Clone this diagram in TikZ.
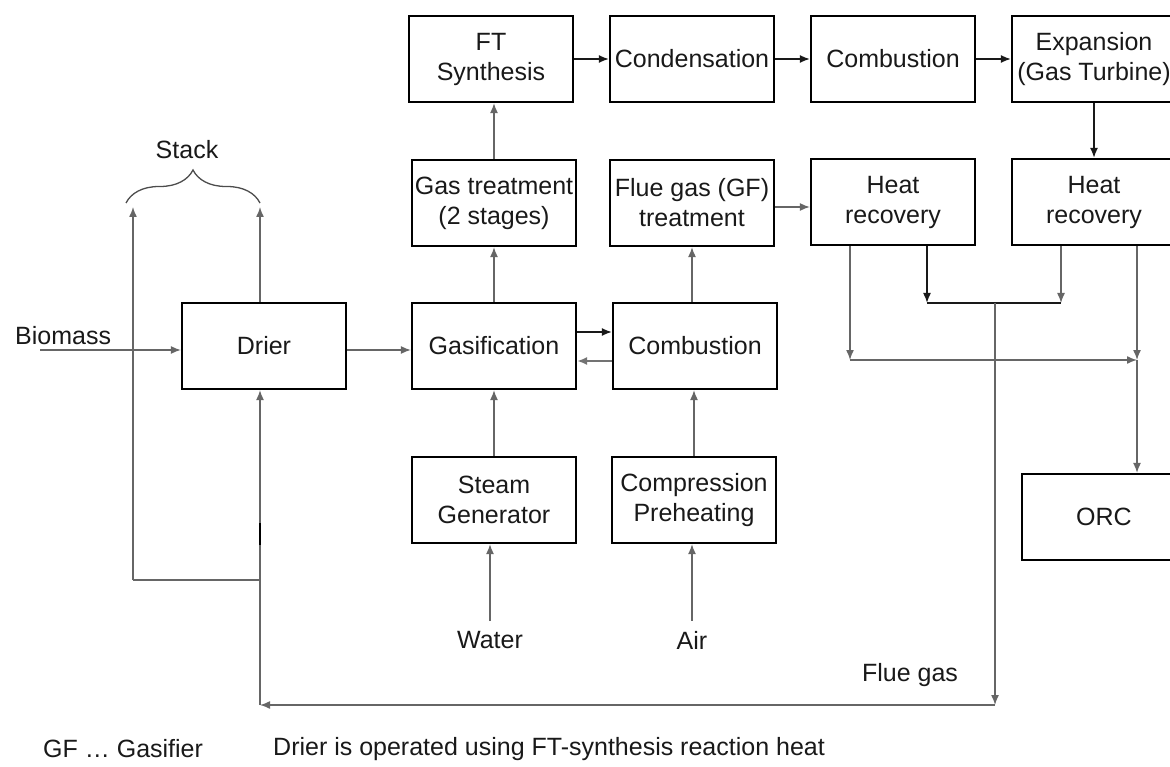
\documentclass[tikz,border=0pt]{standalone}
\usepackage{fontspec}
\setmainfont{Liberation Sans}
\usetikzlibrary{arrows.meta,decorations.pathreplacing}
\begin{document}
\begin{tikzpicture}[x=1pt,y=-1pt,
  txt/.style={font=\fontsize{25}{30}\selectfont,text=black!90},
  blk/.style={txt,draw=black,line width=2.2pt,minimum width=164pt,minimum height=86pt,
              inner sep=0pt,align=center},
  lbl/.style={txt,inner sep=0pt},
  tip/.style={-{Latex[length=10pt,width=8pt]}},
  flow/.style={tip,line width=1.4pt,draw=black!60},
  dflow/.style={tip,line width=1.6pt,draw=black!90},
  pipe/.style={line width=1.4pt,draw=black!60},
  dpipe/.style={line width=1.6pt,draw=black!90}]
\useasboundingbox (0,0) rectangle (1170,767);
\clip (0,0) rectangle (1170,767);

% process blocks
\node[blk] (ft)    at (491,59)   {FT\\Synthesis};
\node[blk] (cond)  at (692,59)   {Condensation};
\node[blk] (comb1) at (893,59)   {Combustion};
\node[blk] (exp)   at (1094,59)  {Expansion\\(Gas Turbine)};
\node[blk] (gast)  at (494,203)  {Gas treatment\\(2 stages)};
\node[blk] (fgt)   at (692,203)  {Flue gas (GF)\\treatment};
\node[blk] (hr1)   at (893,202)  {Heat\\recovery};
\node[blk] (hr2)   at (1094,202) {Heat\\recovery};
\node[blk] (drier) at (264,346)  {Drier};
\node[blk] (gasif) at (494,346)  {Gasification};
\node[blk] (comb2) at (695,346)  {Combustion};
\node[blk] (steam) at (494,500)  {Steam\\Generator};
\node[blk] (comp)  at (694,500)  {Compression\\Preheating};
\node[blk] (orc)   at (1104,517) {ORC};

% labels
\node[lbl,anchor=west] (bio) at (15,336) {Biomass};
\node[lbl] (stack) at (187,150) {Stack};
\node[lbl] (water) at (490,640) {Water};
\node[lbl] (air)   at (692,640) {Air};
\node[lbl] (flue)  at (910,675) {Flue gas};
\node[lbl,anchor=west] (leg1) at (43,749) {GF … Gasifier};
\node[lbl,anchor=west] (leg2) at (273,749) {Drier is operated using FT-synthesis reaction heat};

% junction points
\coordinate (bioin) at (40,350);
\coordinate (stL) at (133,207);
\coordinate (stR) at (260,207);
\coordinate (stB) at (133,580);
\coordinate (dB)  at (260,580);
\coordinate (a1)  at (850,360);
\coordinate (a2)  at (1137,360);
\coordinate (b1)  at (927,303);
\coordinate (b2)  at (1061,303);
\coordinate (fgtop) at (995,303);
\coordinate (fgbot) at (995,705);
\coordinate (fgleft) at (260,705);

% main gas line
\draw[dflow] (ft) -- (cond);
\draw[dflow] (cond) -- (comb1);
\draw[dflow] (comb1) -- (exp);
\draw[dflow] (exp) -- (hr2);
\draw[flow] (gast.north) -- (gast.north |- ft.south);
\draw[flow] (gasif) -- (gast);
\draw[flow] (steam) -- (gasif);
\draw[flow] ([yshift=10pt]water.north) -- (water.north |- steam.south);
\draw[flow] (fgt.south |- comb2.north) -- (fgt.south);
\draw[flow] (comp.north) -- (comp.north |- comb2.south);
\draw[flow] ([yshift=10pt]air.north) -- (air.north |- comp.south);
\draw[flow] ([yshift=-4pt]fgt.east) -- ([yshift=-4pt]fgt.east -| hr1.west);
\draw[dflow] ([yshift=14pt]gasif.east) -- ([yshift=14pt]gasif.east -| comb2.west);
\draw[tip,line width=1.8pt,draw=black!55] ([yshift=-15pt]comb2.west) -- ([yshift=-15pt]comb2.west -| gasif.east);
\draw[flow] (bioin) -- (bioin -| drier.west);
\draw[flow] ([yshift=-4pt]drier.east) -- ([yshift=-4pt]drier.east -| gasif.west);

% stack
\draw[flow] (drier.north -| stR) -- (stR);
\draw[flow] (stB) -- (stL);
\draw[pipe] (stB) -- (dB);
\draw[line width=1.3pt,draw=black!70,decorate,decoration={brace,amplitude=33pt}]
  (126,203) -- (260,203);

% heat recovery network
\draw[flow] (hr1.south -| a1) -- (a1);
\draw[dflow] (hr1.south -| b1) -- (b1);
\draw[flow] (hr2.south -| b2) -- (b2);
\draw[dpipe] (b1) -- (b2);
\draw[flow] (hr2.south -| a2) -- (a2);
\draw[flow] (a1) -- (a2);
\draw[flow] (a2) -- (a2 |- orc.north);

% flue gas return to the drier
\draw[flow] (fgtop) -- (fgbot);
\draw[flow] (fgbot) -- (fgleft);
\draw[flow] (fgleft) -- (drier.south -| fgleft);
\draw[line width=2pt,black] (260,523) -- (260,545);
\end{tikzpicture}
\end{document}
